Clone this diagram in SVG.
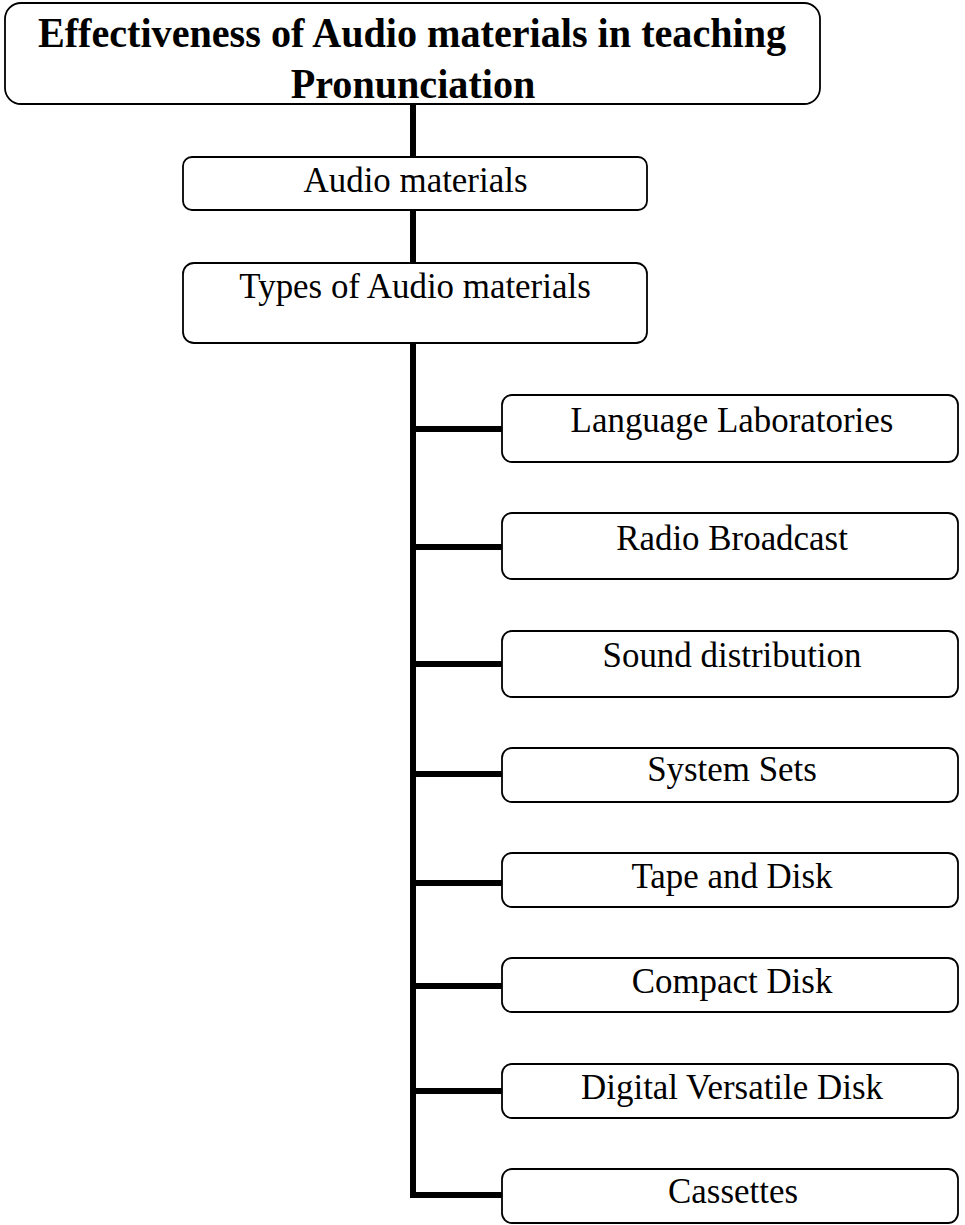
<svg xmlns="http://www.w3.org/2000/svg" width="965" height="1225" viewBox="0 0 965 1225">
<style>
.box{fill:#fff;stroke:#000;stroke-width:1.8}
.t{font-family:"Liberation Serif","Times New Roman",serif;font-size:36px;fill:#000;text-anchor:middle}
.h{font-family:"Liberation Serif","Times New Roman",serif;font-size:42px;font-weight:bold;fill:#000;text-anchor:middle}
.c{stroke:#000;stroke-width:6;fill:none}
</style>
<rect width="965" height="1225" fill="#fff"/>
<g id="connectors">
<line class="c" x1="413" y1="104" x2="413" y2="157"/>
<line class="c" x1="413" y1="210" x2="413" y2="263"/>
<polyline class="c" points="413,343 413,1195 502,1195"/>
<line class="c" x1="413" y1="429" x2="502" y2="429"/>
<line class="c" x1="413" y1="547" x2="502" y2="547"/>
<line class="c" x1="413" y1="664" x2="502" y2="664"/>
<line class="c" x1="413" y1="774" x2="502" y2="774"/>
<line class="c" x1="413" y1="883" x2="502" y2="883"/>
<line class="c" x1="413" y1="986" x2="502" y2="986"/>
<line class="c" x1="413" y1="1091" x2="502" y2="1091"/>
</g>
<g id="title">
<rect class="box" x="5" y="3" width="815" height="101" rx="16"/>
<text class="h" transform="translate(412 47) scale(0.956 1)">Effectiveness of Audio materials in teaching</text>
<text class="h" transform="translate(413 98) scale(0.956 1)">Pronunciation</text>
</g>
<g id="audio">
<rect class="box" x="183" y="157" width="464" height="53" rx="9"/>
<text class="t" transform="translate(415.5 192) scale(0.97 1)">Audio materials</text>
</g>
<g id="types">
<rect class="box" x="183" y="263" width="464" height="80" rx="11"/>
<text class="t" transform="translate(415 298) scale(0.97 1)">Types of Audio materials</text>
</g>
<g id="lang">
<rect class="box" x="502" y="395" width="456" height="67" rx="10"/>
<text class="t" transform="translate(732 432) scale(0.97 1)">Language Laboratories</text>
</g>
<g id="radio">
<rect class="box" x="502" y="513" width="456" height="66" rx="10"/>
<text class="t" transform="translate(732 550) scale(0.97 1)">Radio Broadcast</text>
</g>
<g id="sound">
<rect class="box" x="502" y="631" width="456" height="66" rx="10"/>
<text class="t" transform="translate(732 667) scale(0.97 1)">Sound distribution</text>
</g>
<g id="system">
<rect class="box" x="502" y="748" width="456" height="54" rx="10"/>
<text class="t" transform="translate(732 781) scale(0.97 1)">System Sets</text>
</g>
<g id="tape">
<rect class="box" x="502" y="853" width="456" height="54" rx="10"/>
<text class="t" transform="translate(732 888) scale(0.97 1)">Tape and Disk</text>
</g>
<g id="compact">
<rect class="box" x="502" y="958" width="456" height="54" rx="10"/>
<text class="t" transform="translate(732 993) scale(0.97 1)">Compact Disk</text>
</g>
<g id="digital">
<rect class="box" x="502" y="1064" width="456" height="54" rx="10"/>
<text class="t" transform="translate(732 1099) scale(0.97 1)">Digital Versatile Disk</text>
</g>
<g id="cassettes">
<rect class="box" x="502" y="1169" width="456" height="54" rx="10"/>
<text class="t" transform="translate(733 1203) scale(0.97 1)">Cassettes</text>
</g>
</svg>
